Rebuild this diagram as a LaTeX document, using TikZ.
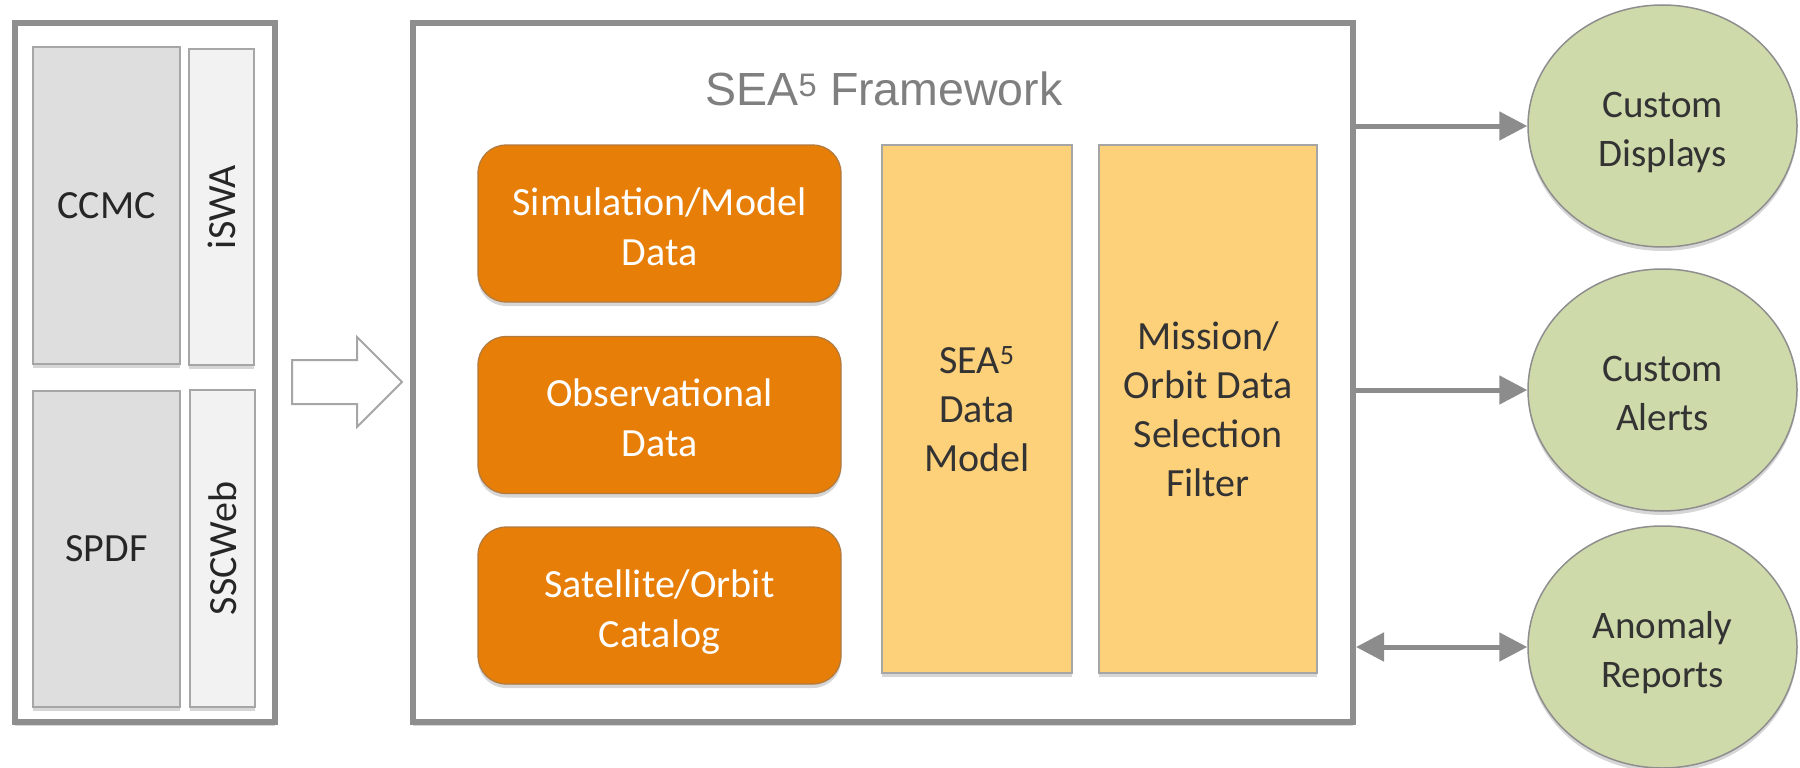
\documentclass[tikz,border=0pt]{standalone}
\usepackage{fontspec}
\setmainfont{Carlito}
\newfontfamily\arialf{Liberation Sans}
\usetikzlibrary{shapes.geometric,arrows.meta,shadows}
\definecolor{framegray}{HTML}{8E8E8E}
\definecolor{boxedge}{HTML}{A6A6A6}
\definecolor{ccmcfill}{HTML}{DEDEDE}
\definecolor{iswafill}{HTML}{F2F2F2}
\definecolor{orangefill}{HTML}{E67E08}
\definecolor{orangeedge}{HTML}{B07A40}
\definecolor{yellowfill}{HTML}{FDD07A}
\definecolor{greenfill}{HTML}{CFDAAA}
\definecolor{arrowgray}{HTML}{8C8C8C}
\definecolor{titlegray}{HTML}{7F7F7F}
\definecolor{darktext}{HTML}{333333}
\begin{document}
\begin{tikzpicture}[x=1pt,y=-1pt,
  softshadow/.style={drop shadow={shadow xshift=0pt,shadow yshift=-4pt,opacity=0.16,fill=black}},
  frame/.style={rectangle,draw=framegray,line width=6pt,fill=white,inner sep=0pt,softshadow},
  gbox/.style={rectangle,draw=boxedge,line width=2pt,inner sep=0pt,text=black!85,
    font=\fontsize{40}{50}\selectfont,softshadow},
  obox/.style={rectangle,rounded corners=28pt,fill=orangefill,draw=orangeedge,line width=1.2pt,
    text=white,align=center,inner sep=0pt,minimum width=363pt,minimum height=157pt,
    text height=83pt,text depth=0pt,
    font=\fontsize{40}{50}\selectfont,softshadow},
  ybox/.style={rectangle,fill=yellowfill,draw=boxedge,line width=1.5pt,text=darktext,
    align=center,inner sep=0pt,minimum height=528pt,font=\fontsize{40}{49}\selectfont,softshadow},
  gell/.style={ellipse,fill=greenfill,draw=framegray,line width=1.5pt,text=darktext,
    align=center,inner sep=0pt,minimum width=269pt,minimum height=242pt,
    text height=80pt,text depth=0pt,
    font=\fontsize{39}{49}\selectfont,softshadow},
  conn/.style={draw=arrowgray,line width=5pt,-{Triangle[length=28pt,width=28pt]}},
  hollow/.style={draw=boxedge,line width=2pt,fill=white,line join=miter}
]
\useasboundingbox (0,0) rectangle (1800,768);

% left source box
\node[frame,minimum width=260pt,minimum height=699pt] (src) at (145,372.5) {};
\node[gbox,fill=ccmcfill,minimum width=147pt,minimum height=317pt] (ccmc) at (106.5,205.5) {CCMC};
\node[gbox,fill=iswafill,minimum width=65pt,minimum height=316pt] (iswa) at (221.5,207) {\rotatebox{90}{iSWA}};
\node[gbox,fill=ccmcfill,minimum width=147pt,minimum height=316pt] (spdf) at (106.5,549) {SPDF};
\node[gbox,fill=iswafill,minimum width=65pt,minimum height=317pt] (sscweb) at (222.5,548.5) {\rotatebox{90}{SSCWeb}};

% hollow arrow
\draw[hollow] (292,360) -- (357,360) -- (357,337) -- (402,382) -- (357,427) -- (357,404) -- (292,404) -- cycle;

% framework
\node[frame,minimum width=940pt,minimum height=699pt] (fw) at (883,372.5) {};
\node[anchor=base,text=titlegray,font=\arialf\fontsize{46.5}{56}\selectfont,inner sep=0pt] (ttl) at (884,106) {SEA\textsuperscript{5} Framework};

\node[obox] (sim) at (659.5,223.5) {Simulation/Model\\Data};
\node[obox] (obs) at (659.5,415) {Observational\\Data};
\node[obox] (sat) at (659.5,605.5) {Satellite/Orbit\\Catalog};

\node[ybox,minimum width=190pt] (dm) at (977,409) {SEA\textsuperscript{5}\\Data\\Model};
\node[ybox,minimum width=218pt] (filt) at (1208,409) {Mission/\\Orbit Data\\Selection\\Filter};

% outputs
\node[gell] (cd) at (1662.5,126) {Custom\\Displays};
\node[gell] (ca) at (1662.5,390) {Custom\\Alerts};
\node[gell] (ar) at (1662.5,647) {Anomaly\\Reports};

\draw[conn] (fw.east |- cd.west) -- (cd.west);
\draw[conn] (fw.east |- ca.west) -- (ca.west);
\draw[conn,{Triangle[length=28pt,width=28pt]}-{Triangle[length=28pt,width=28pt]}] (fw.east |- ar.west) -- (ar.west);
\end{tikzpicture}
\end{document}
